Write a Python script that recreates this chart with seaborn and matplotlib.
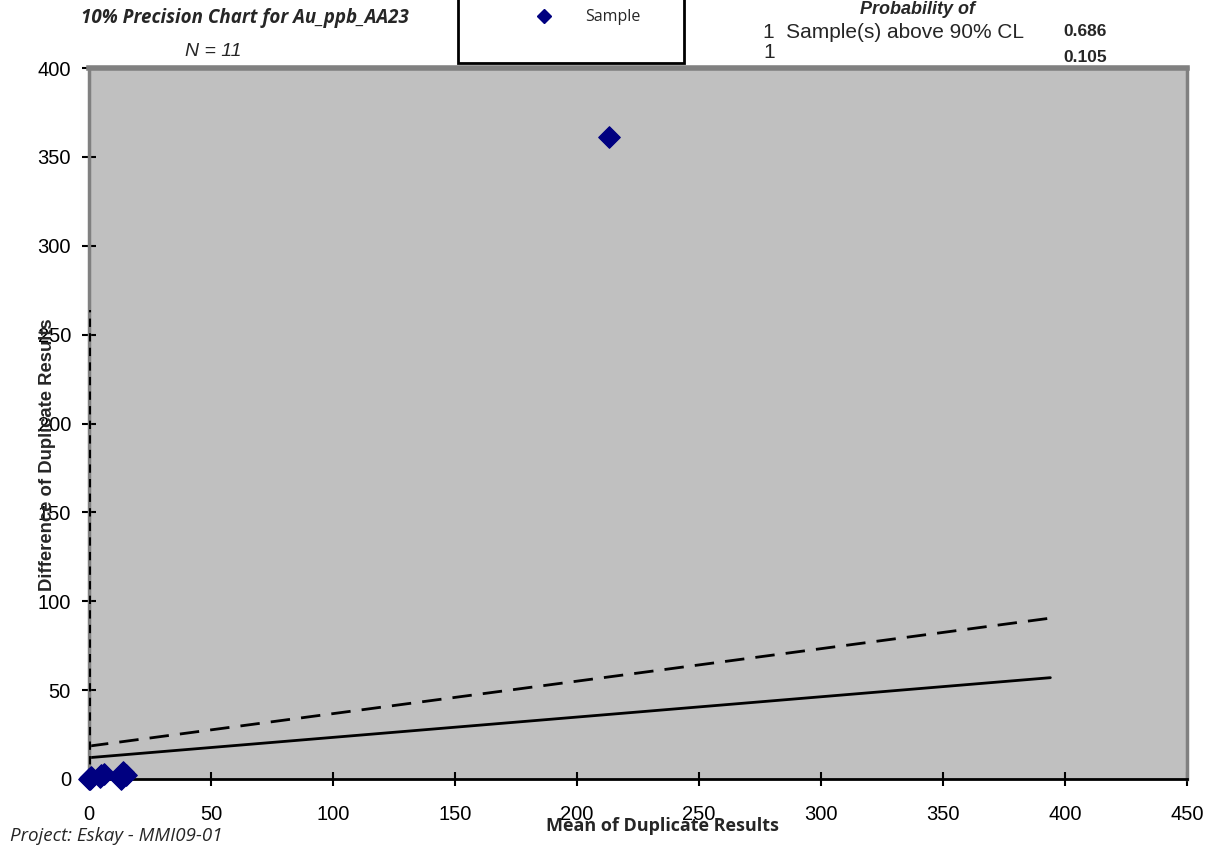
import matplotlib
matplotlib.use("Agg")
import matplotlib.pyplot as plt
import seaborn as sns
import pandas as pd
from matplotlib.patches import Rectangle

# ---- data ----
mean_vals = [0.5, 0.3, 1.0, 0.2, 5.0, 6.0, 4.5, 14.0, 15.0, 13.0, 213.0]
diff_vals = [0.0, 0.5, 1.0, 0.0, 2.0, 3.0, 1.0, 4.0, 2.0, 0.0, 361.0]
line_x = [0, 394]
line_90 = [12, 57]
line_99 = [18.5, 90.5]
vline_x = [0.5, 0.5]
vline_y = [0, 264]
x_ticks = [0, 50, 100, 150, 200, 250, 300, 350, 400, 450]
y_ticks = [0, 50, 100, 150, 200, 250, 300, 350, 400]

sns.set_theme(style="white")
plt.rcParams['font.family'] = ['Liberation Sans', 'DejaVu Sans']

fig = plt.figure(figsize=(12.12, 8.48), dpi=100)
ax = fig.add_axes([89/1212, 1-779/848, (1187-89)/1212, (779-68)/848])
ax.set_facecolor("#c0c0c0")

df = pd.DataFrame({"mean": mean_vals, "diff": diff_vals})
sns.scatterplot(data=df, x="mean", y="diff", marker="D", s=120, color="#000080",
                edgecolor="#000080", ax=ax, zorder=5, clip_on=False)
sns.lineplot(x=line_x, y=line_90, color="black", lw=2, ax=ax)
sns.lineplot(x=line_x, y=line_99, color="black", lw=2, ax=ax, linestyle=(0, (7, 4)))
ax.plot(vline_x, vline_y, color="black", lw=1.5, linestyle=(0, (4, 3)), zorder=4)

ax.set_xlim(0, 450)
ax.set_ylim(0, 400)
ax.set_xticks(x_ticks)
ax.set_yticks(y_ticks)
ax.tick_params(axis="both", direction="inout", length=10, width=1.5, color="black",
               labelsize=14.5, labelcolor="black", pad=8, left=True, bottom=True)
ax.tick_params(axis="x", pad=14)
ax.spines["top"].set_color("#808080")
ax.spines["top"].set_linewidth(4)
for s in ["right", "left"]:
    ax.spines[s].set_color("#808080")
    ax.spines[s].set_linewidth(2.5)
ax.spines["bottom"].set_color("black")
ax.spines["bottom"].set_linewidth(2)
ax.set_xlabel("")
ax.set_ylabel("")

# axis labels
fig.text(662/1212, 1-826/848, "Mean of Duplicate Results", ha="center", va="center",
         fontsize=13, fontweight="bold", family="Open Sans")
fig.text(48/1212, 1-455/848, "Difference of Duplicate Results", ha="center", va="center",
         rotation=90, fontsize=13.3, fontweight="bold", family="Liberation Sans")

# title area
fig.text(245/1212, 1-18/848, "10% Precision Chart for Au_ppb_AA23", ha="center", va="center",
         fontsize=13.5, fontweight="bold", style="italic", family="Open Sans")
fig.text(213/1212, 1-52/848, "N = 11", ha="center", va="center",
         fontsize=14, style="italic", family="Liberation Sans")
fig.text(10/1212, 1-836/848, "Project: Eskay - MMI09-01", ha="left", va="center",
         fontsize=13.5, style="italic", family="Open Sans")

# legend box
fig.patches.append(Rectangle((458/1212, 1-63/848), (684-458)/1212, 66/848,
                             transform=fig.transFigure, facecolor="white",
                             edgecolor="black", lw=2, zorder=0))
fig.lines.append(plt.Line2D([544/1212], [1-16/848], marker="D", color="#000080",
                            markersize=7, transform=fig.transFigure))
fig.text(613/1212, 1-17/848, "Sample", ha="center", va="center", fontsize=11.5,
         family="Open Sans")

# probability text
fig.text(918/1212, 1-9/848, "Probability of", ha="center", va="center",
         fontsize=13, fontweight="bold", style="italic", family="Liberation Sans")
fig.text(763/1212, 1-32/848, "1  Sample(s) above 90% CL", ha="left", va="center",
         fontsize=15, family="Liberation Sans")
fig.text(763/1212, 1-53/848, "1", ha="left", va="center", fontsize=15,
         family="Liberation Sans")
fig.text(1063/1212, 1-32/848, "0.686", ha="left", va="center", fontsize=12.5,
         fontweight="bold", family="Liberation Sans")
fig.text(1063/1212, 1-58/848, "0.105", ha="left", va="center", fontsize=12.5,
         fontweight="bold", family="Liberation Sans", zorder=-1)

fig.savefig("out.png", dpi=100)
